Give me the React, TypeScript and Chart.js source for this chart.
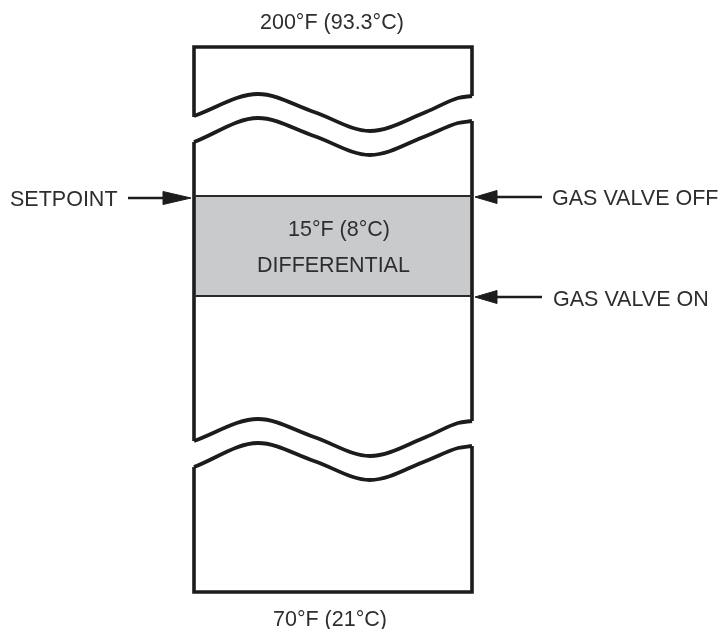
import React, { useEffect, useRef } from "react";
import { Chart, registerables } from "chart.js";

Chart.register(...registerables);

type P = [number, number];

// Diagram geometry (in page pixels)
const boxUpper: P[] = [[194, 117], [194, 47], [472, 47], [472, 96]];
const boxMidLeft: P[] = [[194, 142], [194, 441]];
const boxMidRight: P[] = [[472, 121], [472, 421]];
const boxLower: P[] = [[194, 467], [194, 592], [472, 592], [472, 446]];

// break-mark waves: ends, peaks, inflections and troughs
const waveTopA: P[] = [[194, 116], [258, 94], [314, 112], [370, 131], [426, 112], [458, 98], [472, 96]];
const waveTopB: P[] = [[194, 142], [258, 118], [314, 136], [370, 155], [426, 136], [458, 123], [472, 121]];
const waveBotA: P[] = [[194, 441], [258, 419], [314, 437], [370, 456], [426, 437], [458, 423], [472, 421]];
const waveBotB: P[] = [[194, 467], [258, 443], [314, 461], [370, 480], [426, 461], [458, 448], [472, 446]];

const bandX = [194, 472];
const bandTopY = 196;
const bandBottomY = 296;

const shaftSetpoint: P[] = [[128, 198], [166, 198]];
const headSetpoint: P[] = [[163, 191.5], [191, 198], [163, 204.5], [163, 191.5]];
const shaftOff: P[] = [[494, 197], [542, 197]];
const headOff: P[] = [[497, 190.5], [475, 197], [497, 203.5], [497, 190.5]];
const shaftOn: P[] = [[494, 297], [542, 297]];
const headOn: P[] = [[497, 290.5], [475, 297], [497, 303.5], [497, 290.5]];

const labelTexts = ["200°F (93.3°C)", "70°F (21°C)", "SETPOINT", "GAS VALVE OFF", "GAS VALVE ON", "15°F (8°C)", "DIFFERENTIAL"];
const labelX = [260, 273, 10, 552, 553, 288, 257];
const labelY = [29, 626, 206, 205, 306, 236, 272];

const toPts = (a: P[]) => a.map(([x, y]) => ({ x, y }));

const INK = "#1c1c1c";

export default function App() {
  const ref = useRef<HTMLCanvasElement | null>(null);

  useEffect(() => {
    if (!ref.current) return;
    const lineDs = (pts: P[], width: number, extra: any = {}) => ({
      data: toPts(pts),
      showLine: true,
      borderColor: INK,
      borderWidth: width,
      pointRadius: 0,
      pointHoverRadius: 0,
      fill: false,
      borderJoinStyle: "miter",
      borderCapStyle: "butt",
      order: 0,
      ...extra,
    });
    const waveDs = (pts: P[]) => lineDs(pts, 3.8, { cubicInterpolationMode: "monotone", borderJoinStyle: "round" });
    const headDs = (pts: P[]) => lineDs(pts, 1, { fill: "shape", backgroundColor: INK });

    const textPlugin = {
      id: "labels",
      afterDatasetsDraw(chart: any) {
        const { ctx, scales } = chart;
        ctx.save();
        ctx.fillStyle = "#2e2e2e";
        ctx.font = "21.5px 'Liberation Sans', Arial, sans-serif";
        ctx.textBaseline = "alphabetic";
        ctx.textAlign = "left";
        labelTexts.forEach((t, i) => {
          ctx.fillText(t, scales.x.getPixelForValue(labelX[i]), scales.y.getPixelForValue(labelY[i]));
        });
        ctx.restore();
      },
    };

    const chart = new Chart(ref.current, {
      type: "scatter",
      data: {
        datasets: [
          lineDs([[bandX[0], bandTopY], [bandX[1], bandTopY]], 2, { borderColor: "#2a2a2a" }),
          lineDs([[bandX[0], bandBottomY], [bandX[1], bandBottomY]], 2, { borderColor: "#2a2a2a" }),
          lineDs(boxUpper, 3.6),
          lineDs(boxMidLeft, 3.6),
          lineDs(boxMidRight, 3.6),
          lineDs(boxLower, 3.6),
          waveDs(waveTopA),
          waveDs(waveTopB),
          waveDs(waveBotA),
          waveDs(waveBotB),
          lineDs(shaftSetpoint, 2.4),
          headDs(headSetpoint),
          lineDs(shaftOff, 2.4),
          headDs(headOff),
          lineDs(shaftOn, 2.4),
          headDs(headOn),
          // shaded differential band, drawn underneath everything
          lineDs([[bandX[0], bandTopY], [bandX[1], bandTopY]], 0, {
            fill: { value: bandBottomY },
            backgroundColor: "#c9cacc",
            borderWidth: 0,
            order: 10,
          }),
        ] as any,
      },
      options: {
        animation: false,
        responsive: false,
        devicePixelRatio: 1,
        layout: { padding: 0 },
        plugins: { legend: { display: false }, tooltip: { enabled: false } },
        events: [],
        scales: {
          x: { type: "linear", min: 0, max: 722, display: false },
          y: { type: "linear", min: 0, max: 629, reverse: true, display: false },
        },
      },
      plugins: [textPlugin],
    });
    return () => chart.destroy();
  }, []);

  return (
    <div style={{ position: "absolute", left: 0, top: 0, width: 722, height: 629, background: "#fff" }}>
      <canvas ref={ref} width={722} height={629} style={{ display: "block" }} />
    </div>
  );
}
